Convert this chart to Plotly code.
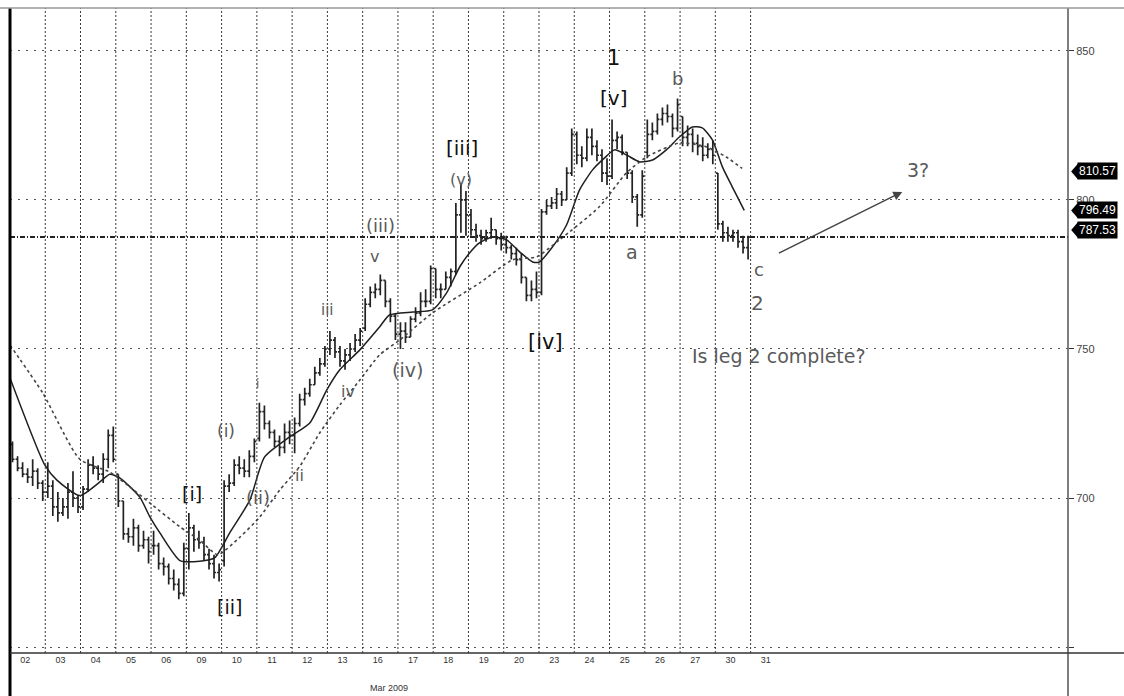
import plotly.graph_objects as go

# ---------------- data ----------------
day_labels = ["02", "03", "04", "05", "06", "09", "10", "11", "12", "13", "16",
              "17", "18", "19", "20", "23", "24", "25", "26", "27", "30", "31"]
bars_per_day = 7

opens = [
    718, 713, 710, 708, 707, 709, 705,  # 02
    702, 704, 697, 695, 697, 702, 700,  # 03
    697, 703, 711, 710, 708, 713, 721,  # 04
    708, 699, 688, 687, 690, 684, 686,  # 05
    684, 684, 678, 677, 673, 671, 668,  # 06
    683, 690, 686, 685, 681, 678, 675,  # 09
    679, 704, 705, 711, 710, 709, 714,  # 10
    720, 729, 725, 722, 719, 717, 722,  # 11
    721, 725, 733, 735, 738, 742, 745,  # 12
    750, 753, 749, 746, 748, 750, 753,  # 13
    757, 765, 769, 770, 773, 766, 761,  # 16
    755, 756, 754, 760, 762, 766, 766,  # 17
    777, 770, 770, 774, 776, 795, 800,  # 18
    795, 790, 788, 787, 789, 790, 787,  # 19
    785, 784, 782, 780, 774, 768, 770,  # 20
    769, 796, 798, 799, 802, 800, 809,  # 23
    822, 815, 814, 821, 818, 815, 809,  # 24
    808, 820, 821, 816, 809, 801, 795,  # 25
    816, 822, 823, 827, 829, 828, 824,  # 26
    828, 821, 822, 819, 818, 815, 817,  # 27
    809, 792, 789, 788, 789, 786, 784,  # 30
]
highs = [
    719, 714, 712, 710, 713, 710, 706,
    712, 706, 702, 700, 705, 709, 701,
    704, 713, 714, 711, 715, 723, 724,
    708, 699, 690, 693, 691, 689, 687,
    689, 685, 680, 678, 676, 673, 685,
    695, 691, 689, 687, 683, 681, 678,
    706, 708, 713, 714, 713, 716, 720,
    732, 731, 726, 723, 721, 725, 726,
    727, 735, 737, 740, 744, 747, 751,
    756, 754, 751, 750, 752, 755, 757,
    767, 771, 772, 775, 773, 767, 762,
    759, 759, 761, 764, 769, 770, 778,
    777, 772, 776, 777, 799, 805, 803,
    797, 792, 790, 790, 794, 790, 789,
    788, 785, 784, 782, 774, 773, 776,
    797, 800, 801, 804, 803, 811, 824,
    823, 818, 824, 824, 820, 817, 814,
    827, 823, 822, 816, 810, 802, 810,
    827, 826, 829, 831, 832, 829, 834,
    828, 825, 824, 822, 821, 819, 820,
    809, 793, 791, 790, 790, 788, 788,
]
lows = [
    712, 709, 707, 705, 704, 703, 699,
    700, 694, 692, 694, 693, 697, 695,
    696, 702, 708, 706, 705, 710, 712,
    697, 686, 685, 684, 682, 683, 678,
    681, 676, 674, 671, 669, 666, 667,
    676, 682, 683, 679, 676, 673, 672,
    677, 702, 704, 708, 707, 707, 712,
    719, 723, 720, 717, 714, 715, 718,
    715, 724, 731, 734, 738, 741, 744,
    748, 747, 744, 743, 746, 749, 751,
    756, 764, 767, 768, 764, 759, 753,
    750, 752, 754, 759, 761, 764, 765,
    767, 767, 770, 771, 775, 789, 788,
    788, 786, 785, 786, 787, 785, 783,
    782, 780, 778, 772, 766, 766, 767,
    768, 795, 797, 797, 798, 800, 808,
    812, 811, 813, 815, 813, 806, 805,
    807, 817, 815, 807, 799, 791, 794,
    814, 820, 822, 825, 826, 821, 823,
    818, 818, 816, 815, 813, 814, 812,
    790, 786, 786, 786, 784, 782, 780,
]
closes = [
    713, 710, 708, 707, 709, 705, 702,
    704, 697, 695, 697, 702, 700, 697,
    703, 711, 710, 708, 713, 721, 713,
    699, 688, 687, 690, 684, 686, 682,
    684, 678, 677, 673, 671, 668, 683,
    690, 686, 685, 681, 678, 675, 676,
    704, 705, 711, 710, 709, 714, 719,
    729, 725, 722, 719, 717, 722, 721,
    725, 733, 735, 738, 742, 745, 750,
    753, 749, 746, 748, 750, 753, 756,
    765, 769, 770, 773, 766, 761, 755,
    756, 754, 760, 762, 766, 766, 777,
    770, 770, 774, 776, 795, 800, 795,
    790, 788, 787, 789, 790, 787, 785,
    784, 782, 780, 774, 768, 770, 769,
    796, 798, 799, 802, 800, 809, 822,
    815, 814, 821, 818, 815, 809, 808,
    820, 821, 816, 809, 801, 795, 808,
    822, 823, 827, 829, 828, 824, 832,
    821, 822, 819, 818, 815, 817, 815,
    792, 789, 788, 789, 786, 784, 787.53,
]

# moving averages (time in trading-day slots, value in index points)
fast_ma_t = [0.00, 0.99, 1.33, 1.98, 2.55, 2.83, 3.12, 3.68, 3.97, 4.25, 4.82, 5.38,
             5.81, 6.23, 6.80, 7.22, 7.93, 8.50, 8.98, 9.35, 9.92, 10.48, 10.76,
             11.42, 11.98, 12.38, 12.75, 13.03, 13.31, 13.68, 14.08, 14.45, 14.82,
             15.01, 15.38, 15.78, 16.15, 16.52, 16.86, 17.14, 17.48, 17.85, 18.22,
             18.61, 18.98, 19.35, 19.63, 19.92, 20.20, 20.48, 20.82]
fast_ma_v = [740.3, 711.0, 706.0, 700.8, 705.4, 708.0, 706.7, 700.3, 693.6, 688.3,
             679.0, 678.8, 680.0, 688.3, 699.3, 713.8, 720.5, 725.2, 736.2, 743.0,
             749.7, 757.4, 761.4, 762.4, 763.1, 768.8, 777.5, 782.2, 785.6, 787.6,
             786.6, 782.6, 779.2, 779.2, 784.2, 791.6, 803.4, 810.1, 814.1, 816.8,
             815.1, 812.8, 813.4, 816.8, 821.1, 824.5, 824.2, 820.1, 811.1, 804.4,
             796.49]
slow_ma_t = [0.00, 0.93, 1.98, 2.83, 3.40, 3.97, 4.82, 5.38, 5.89, 6.52, 7.08, 7.65,
             8.22, 8.78, 9.35, 9.92, 10.48, 11.05, 11.98, 13.31, 14.25, 14.93, 15.58,
             16.71, 17.48, 18.05, 18.98, 19.75, 20.31, 20.76]
slow_ma_v = [751.3, 735.2, 713.0, 708.7, 703.7, 698.3, 690.3, 685.9, 681.0, 686.9,
             693.6, 702.7, 710.7, 721.8, 731.2, 739.6, 748.0, 753.0, 762.1, 772.1,
             779.9, 780.9, 786.6, 797.7, 809.1, 814.4, 819.1, 817.8, 814.4, 810.57]

last_price = 787.53
y_ticks = [650, 700, 750, 800, 850]
y_tick_text = ["", "700", "750", "800", "850"]

# ---------------- layout constants ----------------
W, H = 1124, 696
ML, MR, MT, MB = 10, 56, 8, 43
X_RANGE = [0, 30]
Y_RANGE = [648.0, 864.4]

n_days = len(opens) // bars_per_day
bar_t = [d + (k + 0.5) / bars_per_day for d in range(n_days) for k in range(bars_per_day)]

GRAY = "#5a5a5a"
DARK = "#111111"
FONT = "DejaVu Sans"
AXFONT = "Liberation Sans"

fig = go.Figure()

fig.add_trace(go.Ohlc(
    x=bar_t, open=opens, high=highs, low=lows, close=closes,
    increasing=dict(line=dict(color="#222222", width=1.7)),
    decreasing=dict(line=dict(color="#222222", width=1.7)),
    tickwidth=0.4, hoverinfo="skip", showlegend=False,
))
fig.add_trace(go.Scatter(
    x=fast_ma_t, y=fast_ma_v, mode="lines",
    line=dict(color="#1e1e1e", width=1.5, shape="spline", smoothing=0.6),
    hoverinfo="skip", showlegend=False,
))
fig.add_trace(go.Scatter(
    x=slow_ma_t, y=slow_ma_v, mode="lines",
    line=dict(color="#444444", width=1.6, dash="3px,3px", shape="spline", smoothing=0.6),
    hoverinfo="skip", showlegend=False,
))

shapes = []
# vertical day separators
for d in range(1, len(day_labels)):
    shapes.append(dict(type="line", xref="x", yref="paper", x0=d, x1=d, y0=0, y1=1,
                       line=dict(color="#3a3a3a", width=1, dash="2px,2px")))
# last price line
shapes.append(dict(type="line", xref="paper", yref="y", x0=0, x1=1,
                   y0=last_price, y1=last_price,
                   line=dict(color="#222222", width=2, dash="5px,2px,1px,2px")))
# frame
pw = W - ML - MR
ph = H - MT - MB
left_px = -ML / pw
right_px = (W - ML) / pw
bottom_px = -MB / ph
shapes.append(dict(type="line", xref="paper", yref="paper", x0=0, x1=0, y0=bottom_px, y1=1,
                   line=dict(color="#000000", width=3)))
shapes.append(dict(type="line", xref="paper", yref="paper", x0=1, x1=1, y0=bottom_px, y1=1,
                   line=dict(color="#555555", width=1.5)))
shapes.append(dict(type="line", xref="paper", yref="paper", x0=0, x1=right_px, y0=0, y1=0,
                   line=dict(color="#333333", width=1.5)))
shapes.append(dict(type="line", xref="paper", yref="paper", x0=left_px, x1=right_px, y0=1, y1=1,
                   line=dict(color="#999999", width=1.5)))

annotations = []
# price boxes on the right axis
def yp(v):
    return (v - Y_RANGE[0]) / (Y_RANGE[1] - Y_RANGE[0])

price_boxes = [(slow_ma_v[-1], -3), (fast_ma_v[-1], 0), (last_price, 7)]
for v, shift in price_boxes:
    annotations.append(dict(
        xref="paper", yref="y", x=1.0, y=v, xanchor="left", yanchor="middle",
        xshift=9, yshift=shift, showarrow=False,
        text=f"{v:.2f}", font=dict(family=AXFONT, size=12, color="white"),
        bgcolor="#000000", borderpad=1,
    ))
    yc = yp(v) + shift / ph
    shapes.append(dict(type="path", xref="paper", yref="paper",
                       path=f"M 1.003 {yc} L 1.0095 {yc + 8/ph} L 1.0095 {yc - 8/ph} Z",
                       fillcolor="#000000", line=dict(width=0)))

# wave labels: (text, t, value, size, color)
wave_labels = [
    ("1", 17.11, 847.7, 21, DARK),
    ("[v]", 17.11, 834.2, 20, DARK),
    ("b", 18.92, 840.9, 18, GRAY),
    ("[iii]", 12.83, 817.4, 20, DARK),
    ("(v)", 12.80, 806.7, 16, GRAY),
    ("(iii)", 10.51, 791.3, 18, GRAY),
    ("v", 10.34, 780.9, 16, GRAY),
    ("iii", 9.01, 763.1, 15, GRAY),
    ("a", 17.65, 782.6, 19, GRAY),
    ("3?", 25.75, 810.1, 19, GRAY),
    ("c", 21.25, 776.5, 18, GRAY),
    ("2", 21.19, 765.4, 20, GRAY),
    ("[iv]", 15.18, 752.3, 21, DARK),
    ("Is leg 2 complete?", 21.81, 747.7, 19, GRAY),
    ("iv", 9.58, 735.6, 16, GRAY),
    ("(iv)", 11.27, 743.0, 19, GRAY),
    ("i", 7.03, 738.3, 12, GRAY),
    ("(i)", 6.12, 722.5, 17, GRAY),
    ("(ii)", 7.03, 700.3, 18, GRAY),
    ("ii", 8.22, 707.4, 16, GRAY),
    ("[i]", 5.16, 701.3, 19, DARK),
    ("[ii]", 6.23, 663.4, 19, DARK),
]
for txt, t, v, s, c in wave_labels:
    annotations.append(dict(xref="x", yref="y", x=t, y=v, text=txt, showarrow=False,
                            xanchor="center", yanchor="middle",
                            font=dict(family=FONT, size=s, color=c)))

# forecast arrow towards wave 3
arrow_from = (21.76, 781.9)
arrow_to = (25.30, 802.7)
annotations.append(dict(xref="x", yref="y", axref="x", ayref="y",
                        x=arrow_to[0], y=arrow_to[1], ax=arrow_from[0], ay=arrow_from[1],
                        text="", showarrow=True, arrowhead=2, arrowsize=1.2,
                        arrowwidth=1.5, arrowcolor="#444444"))

annotations.append(dict(xref="x", yref="paper", x=10.76, y=-35 / ph, text="Mar 2009",
                        showarrow=False, font=dict(family=AXFONT, size=9, color="#333333"),
                        xanchor="center", yanchor="middle"))

fig.update_layout(
    width=W, height=H,
    margin=dict(l=ML, r=MR, t=MT, b=MB),
    paper_bgcolor="white", plot_bgcolor="white",
    showlegend=False,
    shapes=shapes, annotations=annotations,
    xaxis=dict(
        range=X_RANGE, rangeslider=dict(visible=False),
        tickmode="array",
        tickvals=[i + 0.43 for i in range(len(day_labels))],
        ticktext=day_labels,
        showgrid=False, zeroline=False, showline=False,
        ticks="", tickfont=dict(family=AXFONT, size=9, color="#333333"),
        fixedrange=True,
    ),
    yaxis=dict(
        range=Y_RANGE, side="right",
        tickmode="array", tickvals=y_ticks, ticktext=y_tick_text,
        showgrid=True, gridcolor="#555555", gridwidth=1, griddash="2px,6px",
        zeroline=False, showline=False,
        ticks="outside", ticklen=5, tickcolor="#333333",
        tickfont=dict(family=AXFONT, size=11, color="#444444"),
        fixedrange=True,
    ),
)

fig.write_html(
    "out.html",
    config={"displayModeBar": False},
    post_script="document.body.style.margin='0';document.body.style.padding='0';"
                "document.body.style.overflow='hidden';",
)
